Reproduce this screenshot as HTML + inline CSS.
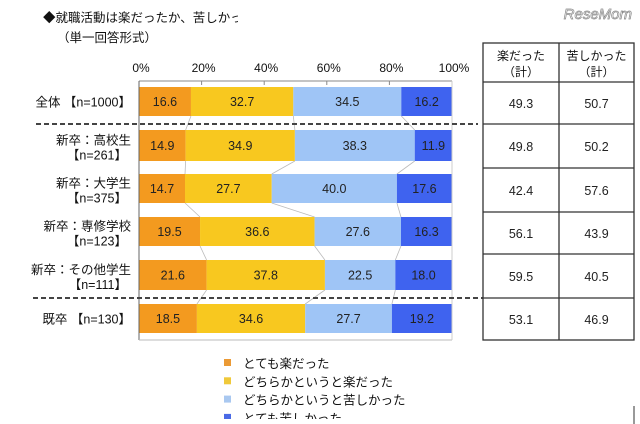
<!DOCTYPE html>
<html><head><meta charset="utf-8"><style>
body{margin:0;background:#fff;width:640px;height:424px;overflow:hidden}
svg{display:block;font-family:"Liberation Sans","Noto Sans CJK JP",sans-serif}
</style></head><body>
<svg id="s" width="640" height="424" xmlns="http://www.w3.org/2000/svg">
<text x="43" y="22" font-size="12.5" fill="#111">◆就職活動は楽だったか、苦しかっ</text>
<rect x="238" y="8" width="20" height="20" fill="#fff"/>
<text x="57" y="42" font-size="12.5" fill="#111">（単一回答形式）</text>
<text x="632" y="19" font-size="15" fill="#fff" stroke="#888" stroke-width="0.7" text-anchor="end" font-style="italic">ReseMom</text>
</svg>
<script>
const s=document.getElementById('s');const NS='http://www.w3.org/2000/svg';
function el(t,a,txt){const e=document.createElementNS(NS,t);for(const k in a)e.setAttribute(k,a[k]);if(txt!=null)e.textContent=txt;s.appendChild(e);return e;}
const X0=139,SC=3.13;
const cols=['#f39a1f','#f8c81f','#9fc5f6','#3f63ef'];
const rows=[
 {y:87,h:29,l:['全体 【n=1000】'],v:[16.6,32.7,34.5,16.2],t:[49.3,50.7]},
 {y:130,h:31,l:['新卒：高校生','【n=261】'],v:[14.9,34.9,38.3,11.9],t:[49.8,50.2]},
 {y:174,h:29,l:['新卒：大学生','【n=375】'],v:[14.7,27.7,40.0,17.6],t:[42.4,57.6]},
 {y:217,h:29,l:['新卒：専修学校','【n=123】'],v:[19.5,36.6,27.6,16.3],t:[56.1,43.9]},
 {y:260,h:30,l:['新卒：その他学生','【n=111】'],v:[21.6,37.8,22.5,18.0],t:[59.5,40.5]},
 {y:304,h:29,l:['既卒 【n=130】'],v:[18.5,34.6,27.7,19.2],t:[53.1,46.9]}];
// ticks
['0%','20%','40%','60%','80%','100%'].forEach((t,i)=>{const x=X0+i*62.6;el('text',{x:x+2,y:72,'font-size':12,'text-anchor':'middle',fill:'#111'},t);el('line',{x1:x,y1:81,x2:x,y2:85,stroke:'#888'});});
el('line',{x1:X0,y1:81,x2:452,y2:81,stroke:'#888'});
// connectors
let prev=null;
rows.forEach(r=>{let acc=0;const ed=[];r.v.forEach(v=>{acc+=v;ed.push(X0+acc*SC);});
 if(prev){for(let i=0;i<3;i++)el('line',{x1:prev.e[i],y1:prev.b,x2:ed[i],y2:r.y,stroke:'#bbb','stroke-width':0.8});}
 prev={e:ed,b:r.y+r.h};});
rows.forEach(r=>{let x=X0;r.v.forEach((v,i)=>{const w=v*SC;el('rect',{x:x,y:r.y,width:w,height:r.h,fill:cols[i]});
 el('text',{x:x+w/2,y:r.y+r.h/2+4.5,'font-size':12.5,'text-anchor':'middle',fill:'#222'},v.toFixed(1));x+=w;});
 if(r.l.length==1)el('text',{x:131,y:r.y+r.h/2+5,'font-size':12.5,'text-anchor':'end',fill:'#111'},r.l[0]);
 else{el('text',{x:131,y:r.y+r.h/2-1,'font-size':12.5,'text-anchor':'end',fill:'#111'},r.l[0]);el('text',{x:127,y:r.y+r.h/2+14,'font-size':12.5,'text-anchor':'end',fill:'#111'},r.l[1]);}
});
el('line',{x1:X0,y1:81,x2:X0,y2:340,stroke:'#666'});
el('line',{x1:X0,y1:340,x2:452,y2:340,stroke:'#bbb'});
el('line',{x1:452,y1:81,x2:452,y2:340,stroke:'#ccc'});
el('line',{x1:36,y1:124,x2:478,y2:124,stroke:'#444','stroke-width':2,'stroke-dasharray':'5,3'});
el('line',{x1:33,y1:298,x2:483,y2:298,stroke:'#444','stroke-width':2,'stroke-dasharray':'5,3'});
// table
const tx1=483,tx2=559,tx3=634,ys=[43,82,124,168,212,254,298,340];
el('rect',{x:tx1,y:43,width:tx3-tx1,height:297,fill:'none',stroke:'#333','stroke-width':1.3});
el('line',{x1:tx2,y1:43,x2:tx2,y2:340,stroke:'#333','stroke-width':1.3});
ys.slice(1,-1).forEach(y=>el('line',{x1:tx1,y1:y,x2:tx3,y2:y,stroke:'#333','stroke-width':1.3}));
el('text',{x:(tx1+tx2)/2,y:60,'font-size':12,'text-anchor':'middle',fill:'#111'},'楽だった');
el('text',{x:(tx1+tx2)/2,y:76,'font-size':12,'text-anchor':'middle',fill:'#111'},'（計）');
el('text',{x:(tx2+tx3)/2,y:60,'font-size':12,'text-anchor':'middle',fill:'#111'},'苦しかった');
el('text',{x:(tx2+tx3)/2,y:76,'font-size':12,'text-anchor':'middle',fill:'#111'},'（計）');
rows.forEach((r,i)=>{const yc=(ys[i+1]+ys[i+2])/2+5;
 el('text',{x:(tx1+tx2)/2,y:yc,'font-size':12.5,'text-anchor':'middle',fill:'#222'},r.t[0].toFixed(1));
 el('text',{x:(tx2+tx3)/2,y:yc,'font-size':12.5,'text-anchor':'middle',fill:'#222'},r.t[1].toFixed(1));});
// legend
const lg=['とても楽だった','どちらかというと楽だった','どちらかというと苦しかった','とても苦しかった'];
const lc=['#eb9a35','#f0c93a','#a9c8f0','#4a6ae6'];
lg.forEach((t,i)=>{const y=363+i*18.3;el('rect',{x:224,y:y-4,width:7,height:7,fill:lc[i]});
 el('text',{x:243,y:y+5,'font-size':12.5,fill:'#111'},t);});
el('rect',{x:200,y:419,width:300,height:5,fill:'#fff'});
el('line',{x1:634,y1:406,x2:634,y2:424,stroke:'#333'});
</script>
</body></html>
